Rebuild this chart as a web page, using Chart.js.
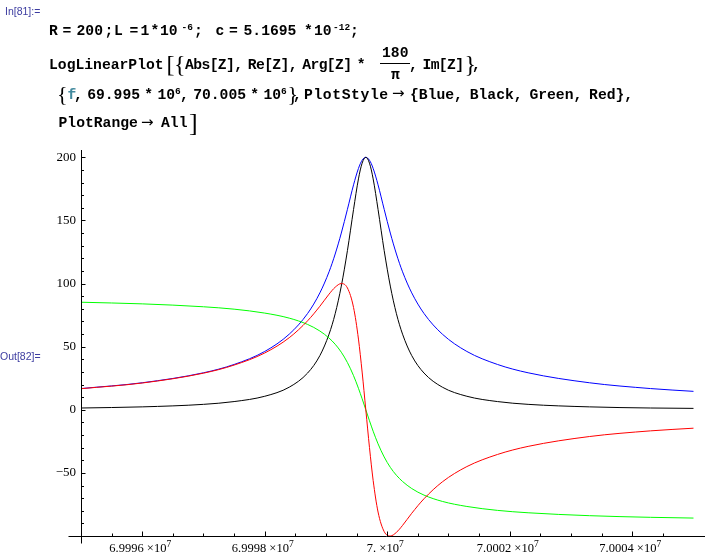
<!DOCTYPE html>
<html>
<head>
<meta charset="utf-8">
<title>LogLinearPlot of Z</title>
<script src="https://cdn.jsdelivr.net/npm/chart.js@4.4.1/dist/chart.umd.min.js"></script>
<style>
  html, body { margin: 0; padding: 0; background: #fff; }
  #page { position: relative; width: 706px; height: 558px; overflow: hidden; background: #fff; }
  #plot { position: absolute; left: 0; top: 0; }
  .t { position: absolute; white-space: pre; line-height: 1; }
  .cell { font-family: "Liberation Sans", Arial, sans-serif; font-size: 10.5px; color: #3c3ca0; }
  .code { font-family: "Liberation Mono", "Courier New", monospace; font-weight: bold; font-size: 14.7px; color: #000; }
  .sup { font-family: "Liberation Mono", "Courier New", monospace; font-weight: bold; font-size: 9.5px; color: #000; }
  .big { font-family: "Liberation Serif", "Times New Roman", serif; font-weight: normal; color: #000; }
  .arr { font-family: "DejaVu Sans", sans-serif; font-size: 15px; color: #000; }
  .var { color: #438a9e; }
  .tight { letter-spacing: -0.6px; word-spacing: -3px; }
  .ws { word-spacing: -4.5px; }
  .bar { position: absolute; height: 1px; background: #000; }
  .xl { position: absolute; top: 542px; white-space: pre; line-height: 1;
        font-family: "Liberation Serif", "Times New Roman", serif; font-size: 12.5px; color: #000;
        transform: translateX(-50%); }
  .xl sup { font-size: 9.5px; position: relative; top: -5px; vertical-align: baseline; line-height: 0; }
</style>
</head>
<body>
<div id="page">
  <canvas id="plot" width="706" height="558"></canvas>

  <span class="t cell" style="left:5px;top:6px">In[81]:=</span>

  <!-- line 1 -->
  <span class="t code" style="left:49px;top:24.4px">R</span>
  <span class="t code" style="left:62.5px;top:24.4px">=</span>
  <span class="t code" style="left:76.5px;top:24.4px">200</span>
  <span class="t code" style="left:104.5px;top:24.4px">;</span>
  <span class="t code" style="left:114px;top:24.4px">L</span>
  <span class="t code" style="left:129.5px;top:24.4px">=</span>
  <span class="t code" style="left:140.5px;top:24.4px">1</span>
  <span class="t code" style="left:150.5px;top:24.4px">*</span>
  <span class="t code" style="left:160px;top:24.4px">10</span>
  <span class="t sup" style="left:181.5px;top:22.5px">-6</span>
  <span class="t code" style="left:194px;top:24.4px">;</span>
  <span class="t code" style="left:215.5px;top:24.4px">c</span>
  <span class="t code" style="left:229px;top:24.4px">=</span>
  <span class="t code" style="left:243.5px;top:24.4px">5.1695</span>
  <span class="t code" style="left:304px;top:24.4px">*</span>
  <span class="t code" style="left:314px;top:24.4px">10</span>
  <span class="t sup" style="left:333px;top:22.5px">-12</span>
  <span class="t code" style="left:350px;top:24.4px">;</span>

  <!-- line 2 -->
  <span class="t code" style="left:49px;top:57.7px">LogLinearPlot</span>
  <span class="t big" style="left:166.5px;top:51.5px;font-size:24px">[</span>
  <span class="t big" style="left:174px;top:51.5px;font-size:24px">{</span>
  <span class="t code tight" style="left:185px;top:57.7px">Abs[Z], Re[Z], Arg[Z] *</span>
  <span class="t code" style="left:382px;top:45.7px">180</span>
  <div class="bar" style="left:380px;top:63px;width:30px"></div>
  <span class="t code" style="left:391px;top:67.7px">π</span>
  <span class="t code tight" style="left:409px;top:57.7px">, Im[Z]</span>
  <span class="t big" style="left:464.5px;top:51.5px;font-size:24px">}</span>
  <span class="t code" style="left:472px;top:57.7px">,</span>

  <!-- line 3 -->
  <span class="t big" style="left:57px;top:82.5px;font-size:22px">{</span>
  <span class="t code var" style="left:67.5px;top:87.7px">f</span>
  <span class="t code ws" style="left:74px;top:87.7px">, 69.995 * 10</span>
  <span class="t sup" style="left:175px;top:86.5px">6</span>
  <span class="t code ws" style="left:180px;top:87.7px">, 70.005 * 10</span>
  <span class="t sup" style="left:281px;top:86.5px">6</span>
  <span class="t big" style="left:287.5px;top:82.5px;font-size:22px">}</span>
  <span class="t code" style="left:293px;top:87.7px">,</span>
  <span class="t code" style="left:304px;top:87.7px;letter-spacing:0.6px">PlotStyle</span>
  <span class="t arr" style="left:392px;top:86.3px">→</span>
  <span class="t code" style="left:410px;top:87.7px;word-spacing:-2px">{Blue, Black, Green, Red},</span>

  <!-- line 4 -->
  <span class="t code" style="left:58.5px;top:116px">PlotRange</span>
  <span class="t arr" style="left:141px;top:114.6px">→</span>
  <span class="t code" style="left:161px;top:116px">All</span>
  <span class="t big" style="left:189px;top:109.5px;font-size:26px">]</span>

  <span class="t cell" style="left:0px;top:351px">Out[82]=</span>
</div>

<script>
// frequency samples (Hz) and values
const freqHz = [
  69995000, 69996000, 69997000, 69997500, 69998000, 69998400, 69998700, 69998900,
  69999050, 69999150, 69999250, 69999350, 69999450, 69999530, 69999590, 69999650,
  69999710, 69999770, 69999850, 69999950, 70000050, 70000150, 70000250, 70000400,
  70000600, 70000900, 70001300, 70001800, 70002300, 70003300, 70004300, 70005000
];
const absZ = [
  16.8, 21.4, 29.3, 35.9, 46.2, 59.9, 76.3, 92.6,
  109.3, 123.4, 140.0, 158.8, 178.2, 191.2, 197.7, 200.0,
  197.7, 191.2, 178.2, 158.8, 140.0, 123.4, 109.3, 92.6,
  76.3, 59.9, 46.2, 35.9, 29.3, 21.4, 16.8, 14.6
];
const reZ = [
  1.4, 2.3, 4.3, 6.5, 10.7, 17.9, 29.1, 42.9,
  59.9, 76.1, 98.0, 126.1, 158.7, 182.9, 195.4, 200.0,
  195.4, 182.9, 158.7, 126.1, 98.0, 76.1, 59.9, 42.9,
  29.1, 17.9, 10.7, 6.5, 4.3, 2.3, 1.4, 1.1
];
const argZdeg = [
  85.2, 83.9, 81.6, 79.7, 76.6, 72.6, 67.6, 62.4,
  56.8, 51.9, 45.6, 37.4, 27.0, 17.0, 8.7, 0.0,
  -8.7, -17.0, -27.0, -37.4, -45.6, -51.9, -56.8, -62.4,
  -67.6, -72.6, -76.6, -79.7, -81.6, -83.9, -85.2, -85.8
];
const imZ = [
  16.7, 21.2, 29.0, 35.4, 45.0, 57.1, 70.5, 82.0,
  91.6, 97.1, 100.0, 96.5, 81.0, 56.0, 29.9, 0.0,
  -29.9, -56.0, -81.0, -96.5, -100.0, -97.1, -91.6, -82.0,
  -70.5, -57.1, -45.0, -35.4, -29.0, -21.2, -16.7, -14.6
];

const xTickValues = [69996000, 69998000, 70000000, 70002000, 70004000];
const xTickMantissa = ['6.9996', '6.9998', '7.', '7.0002', '7.0004'];
const xTickExponent = ['7', '7', '7', '7', '7'];
const yTickValues = [-50, 0, 50, 100, 150, 200];

const xMin = 69995000, xMax = 70005188;
const yMin = -100, yMax = 205.8;

function series(vals) {
  return freqHz.map((f, i) => ({ x: f, y: vals[i] }));
}

// Mathematica style axes: lines meeting at the lower left, ticks pointing inward
const mmaAxes = {
  id: 'mmaAxes',
  afterDatasetsDraw(chart) {
    const { ctx } = chart;
    const x = chart.scales.x, y = chart.scales.y;
    const ax = Math.round(x.getPixelForValue(xMin)) + 0.5;
    const ay = Math.round(y.getPixelForValue(yMin)) + 0.5;
    ctx.save();
    ctx.strokeStyle = '#000';
    ctx.lineWidth = 1;
    ctx.beginPath();
    ctx.moveTo(ax - 13, ay);
    ctx.lineTo(chart.chartArea.right, ay);
    ctx.moveTo(ax, chart.chartArea.top);
    ctx.lineTo(ax, ay + 7);
    // y ticks every 10
    for (let v = -90; v <= 200; v += 10) {
      const py = Math.round(y.getPixelForValue(v)) + 0.5;
      const len = v % 50 === 0 ? 4 : 2.5;
      ctx.moveTo(ax, py);
      ctx.lineTo(ax + len, py);
    }
    // x ticks every 500 Hz
    for (let f = 69995500; f <= 70004500; f += 500) {
      const px = Math.round(x.getPixelForValue(f)) + 0.5;
      const len = xTickValues.includes(f) ? 5 : 3;
      ctx.moveTo(px, ay);
      ctx.lineTo(px, ay - len);
    }
    ctx.stroke();
    ctx.restore();
  }
};

const chart = new Chart(document.getElementById('plot'), {
  type: 'line',
  data: {
    datasets: [
      { label: 'Abs[Z]', data: series(absZ), borderColor: '#0000ff', order: 4 },
      { label: 'Re[Z]', data: series(reZ), borderColor: '#000000', order: 3 },
      { label: 'Arg[Z]*180/π', data: series(argZdeg), borderColor: '#00ff00', order: 2 },
      { label: 'Im[Z]', data: series(imZ), borderColor: '#ff0000', order: 1 }
    ]
  },
  options: {
    responsive: false,
    animation: false,
    layout: { padding: { top: 150, right: 1, bottom: 0, left: 0 } },
    plugins: { legend: { display: false }, tooltip: { enabled: false } },
    elements: {
      point: { radius: 0 },
      line: { borderWidth: 1, cubicInterpolationMode: 'monotone', fill: false }
    },
    scales: {
      x: {
        type: 'linear',
        min: xMin,
        max: xMax,
        afterBuildTicks: s => { s.ticks = xTickValues.map(v => ({ value: v })); },
        afterFit: s => { s.height = 22; },
        grid: { display: false, drawTicks: false },
        border: { display: false },
        ticks: { display: false }
      },
      y: {
        type: 'linear',
        min: yMin,
        max: yMax,
        afterBuildTicks: s => { s.ticks = yTickValues.map(v => ({ value: v })); },
        afterFit: s => { s.width = 81; },
        grid: { display: false, drawTicks: false },
        border: { display: false },
        ticks: {
          padding: 5,
          color: '#000',
          font: { family: '"Liberation Serif", "Times New Roman", serif', size: 13 },
          callback: v => (v < 0 ? '−' + Math.abs(v) : String(v))
        }
      }
    }
  },
  plugins: [mmaAxes]
});

// x tick labels with a real superscript exponent, placed by the x scale
const page = document.getElementById('page');
xTickValues.forEach((v, i) => {
  const el = document.createElement('span');
  el.className = 'xl';
  el.style.left = chart.scales.x.getPixelForValue(v) - 2 + 'px';
  el.innerHTML = xTickMantissa[i] + ' ×10<sup>' + xTickExponent[i] + '</sup>';
  page.appendChild(el);
});
</script>
</body>
</html>
